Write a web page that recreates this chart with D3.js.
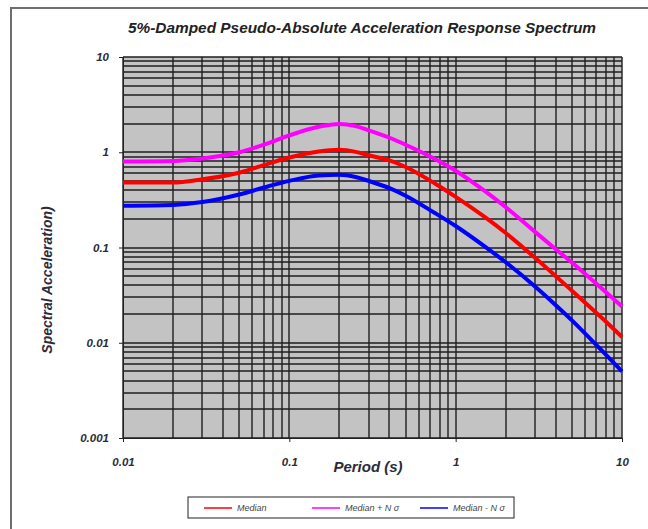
<!DOCTYPE html>
<html>
<head>
<meta charset="utf-8">
<script src="https://cdn.jsdelivr.net/npm/d3@7"></script>
<style>
body { margin: 0; background: #fff; }
</style>
</head>
<body>
<div id="chart"></div>
<script>
// periods (s) and spectral accelerations
var periods     = [0.01, 0.02, 0.03, 0.05, 0.075, 0.1, 0.15, 0.2, 0.25, 0.3, 0.4, 0.5, 0.75, 1, 1.5, 2, 3, 4, 5, 7.5, 10];
var median      = [0.48, 0.48, 0.52, 0.61, 0.76, 0.88, 1.02, 1.06, 1.01, 0.93, 0.82, 0.70, 0.47, 0.34, 0.208, 0.142, 0.078, 0.050, 0.0352, 0.0185, 0.0115];
var medianPlus  = [0.80, 0.81, 0.86, 1.00, 1.25, 1.50, 1.85, 1.98, 1.88, 1.70, 1.42, 1.20, 0.85, 0.64, 0.39, 0.265, 0.146, 0.096, 0.0695, 0.0375, 0.024];
var medianMinus = [0.275, 0.28, 0.30, 0.36, 0.44, 0.50, 0.57, 0.58, 0.55, 0.50, 0.42, 0.35, 0.23, 0.168, 0.102, 0.070, 0.039, 0.0248, 0.0172, 0.0084, 0.005];
var seriesNames = ["Median", "Median + N σ", "Median - N σ"];
var xTicks = [0.01, 0.1, 1, 10];
var yTicks = [0.001, 0.01, 0.1, 1, 10];

var w = 648, h = 529;
var margin = {left: 123, right: 26, top: 57, bottom: 91};

var svg = d3.select("#chart").append("svg")
  .attr("width", w)
  .attr("height", h);

// outer chart frame (only left/top edges fall inside the picture)
svg.append("rect")
  .attr("x", 11).attr("y", 8)
  .attr("width", 660).attr("height", 560)
  .attr("fill", "none")
  .attr("stroke", "#6e6e6e")
  .attr("stroke-width", 2);

var x = d3.scaleLog().domain([0.01, 10]).range([margin.left, w - margin.right]);
var y = d3.scaleLog().domain([0.001, 10]).range([h - margin.bottom, margin.top]);

// plot background
svg.append("rect")
  .attr("x", x(0.01)).attr("y", y(10))
  .attr("width", x(10) - x(0.01))
  .attr("height", y(0.001) - y(10))
  .attr("fill", "#c3c3c3");

// log grid, majors and minors
var grid = svg.append("g").attr("stroke", "#1e1e1e").attr("stroke-width", 1.4);
grid.selectAll("line.v")
  .data(x.ticks())
  .enter().append("line")
  .attr("class", "v")
  .attr("x1", function(d) { return Math.round(x(d)); })
  .attr("x2", function(d) { return Math.round(x(d)); })
  .attr("y1", y(10)).attr("y2", y(0.001));
grid.selectAll("line.h")
  .data(y.ticks())
  .enter().append("line")
  .attr("class", "h")
  .attr("y1", function(d) { return Math.round(y(d)); })
  .attr("y2", function(d) { return Math.round(y(d)); })
  .attr("x1", x(0.01)).attr("x2", x(10));

// axes
var fmt = function(d) { return String(d); };
var xAxis = svg.append("g")
  .attr("transform", "translate(0," + y(0.001) + ")")
  .call(d3.axisBottom(x).tickValues(xTicks).tickFormat(fmt).tickSize(4).tickPadding(16));
var yAxis = svg.append("g")
  .attr("transform", "translate(" + x(0.01) + ",0)")
  .call(d3.axisLeft(y).tickValues(yTicks).tickFormat(fmt).tickSize(4).tickPadding(10));
[xAxis, yAxis].forEach(function(a) {
  a.select(".domain").attr("stroke", "#222");
  a.selectAll(".tick line").attr("stroke", "#222");
  a.selectAll("text")
    .attr("font-family", "Liberation Sans, Arial, sans-serif")
    .attr("font-size", "11.5px")
    .attr("font-weight", "bold")
    .attr("font-style", "italic")
    .attr("fill", "#2b2b3a");
});

// curves
var series = [
  {name: seriesNames[0], values: median, color: "#ff0000"},
  {name: seriesNames[1], values: medianPlus, color: "#ff00ff"},
  {name: seriesNames[2], values: medianMinus, color: "#0000ff"}
];
var line = d3.line()
  .x(function(d) { return x(d[0]); })
  .y(function(d) { return y(d[1]); })
  .curve(d3.curveMonotoneX);

svg.selectAll("path.curve")
  .data(series)
  .enter().append("path")
  .attr("class", "curve")
  .attr("d", function(s) { return line(d3.zip(periods, s.values)); })
  .attr("fill", "none")
  .attr("stroke", function(s) { return s.color; })
  .attr("stroke-width", 4)
  .attr("stroke-linejoin", "round");

// titles
svg.append("text")
  .text("5%-Damped Pseudo-Absolute Acceleration Response Spectrum")
  .attr("x", 362).attr("y", 33)
  .attr("text-anchor", "middle")
  .attr("font-family", "Liberation Sans, Arial, sans-serif")
  .attr("font-size", "15.4px")
  .attr("font-weight", "bold")
  .attr("font-style", "italic")
  .attr("fill", "#222");

svg.append("text")
  .text("Period (s)")
  .attr("x", 368).attr("y", 472)
  .attr("text-anchor", "middle")
  .attr("font-family", "Liberation Sans, Arial, sans-serif")
  .attr("font-size", "15px")
  .attr("font-weight", "bold")
  .attr("font-style", "italic")
  .attr("fill", "#2b2b3a");

svg.append("text")
  .text("Spectral Acceleration)")
  .attr("transform", "translate(52,280) rotate(-90)")
  .attr("text-anchor", "middle")
  .attr("font-family", "Liberation Sans, Arial, sans-serif")
  .attr("font-size", "14px")
  .attr("font-weight", "bold")
  .attr("font-style", "italic")
  .attr("fill", "#2b2b3a");

// legend
var legend = svg.append("g").attr("transform", "translate(188,497)");
legend.append("rect")
  .attr("width", 326).attr("height", 21)
  .attr("fill", "#fff")
  .attr("stroke", "#222")
  .attr("stroke-width", 1);
var item = legend.selectAll("g.item")
  .data(series)
  .enter().append("g")
  .attr("class", "item")
  .attr("transform", function(d, i) { return "translate(" + (16 + i * 108) + ",11)"; });
item.append("line")
  .attr("x1", 0).attr("x2", 28)
  .attr("stroke", function(d) { return d.color; })
  .attr("stroke-width", 1.5);
item.append("text")
  .text(function(d) { return d.name; })
  .attr("x", 33).attr("y", 3)
  .attr("font-family", "Liberation Sans, Arial, sans-serif")
  .attr("font-size", "9px")
  .attr("font-style", "italic")
  .attr("fill", "#444");
</script>
</body>
</html>
